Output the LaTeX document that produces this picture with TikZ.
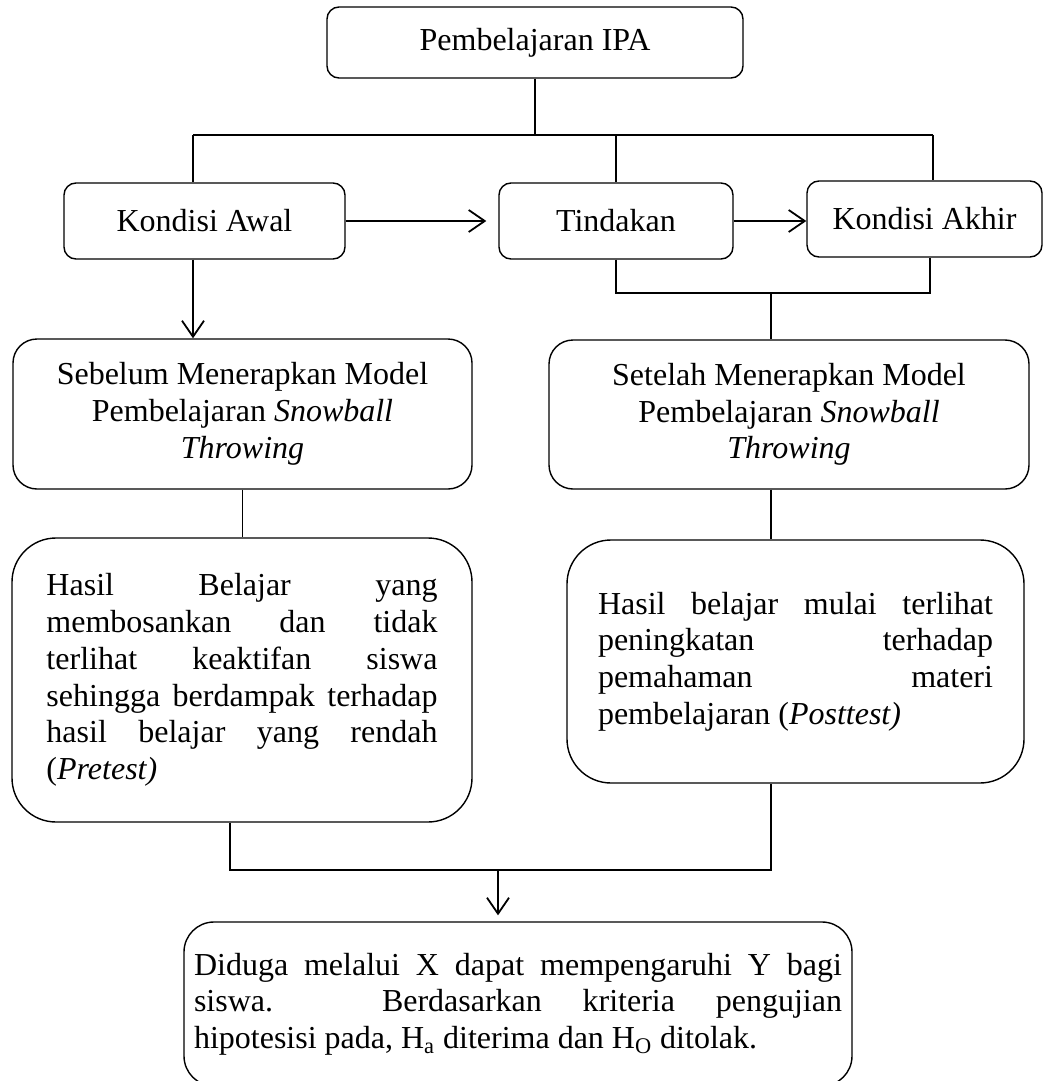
\documentclass[tikz,border=0pt]{standalone}
\usepackage{fontspec}
\setmainfont{Liberation Serif}
\usetikzlibrary{arrows.meta}
\tolerance=10000
\hbadness=10000
\hyphenpenalty=10000

\begin{document}
\begin{tikzpicture}[x=0.5pt,y=-0.5pt,
  box/.style={draw, line width=0.7pt, rounded corners=#1, inner sep=0pt, align=center,
    font=\fontsize{16}{18.35}\selectfont},
  box/.default=6pt,
  link/.style={line width=0.9pt},
  arr/.style={line width=0.9pt, -{Straight Barb[length=8pt,width=11pt,line width=0.9pt]}}]
\useasboundingbox (0,0) rectangle (1044,1081);
\node[box, minimum width=208pt, minimum height=35.5pt] (ipa) at (535,42.5) {Pembelajaran IPA};
\node[box, minimum width=140.5pt, minimum height=38pt] (awal) at (204.5,221) {Kondisi Awal};
\node[box, minimum width=117pt, minimum height=38pt] (tindakan) at (616,221) {Tindakan};
\node[box, minimum width=117.5pt, minimum height=38pt] (akhir) at (924.5,219) {Kondisi Akhir};
\node[box=12pt, minimum width=229.5pt, minimum height=75pt] (sebelum) at (242.5,414)
  {Sebelum Menerapkan Model\\ Pembelajaran \textit{Snowball}\\ \textit{Throwing}};
\node[box=12pt, minimum width=240pt, minimum height=74.5pt] (setelah) at (789,414.5)
  {Setelah Menerapkan Model\\ Pembelajaran \textit{Snowball}\\ \textit{Throwing}};
\node[box=22pt, minimum width=230pt, minimum height=142pt, text width=195.5pt, align=justify] (hasilA) at (242,680)
  {Hasil Belajar yang\linebreak membosankan dan tidak\linebreak terlihat keaktifan siswa\linebreak
   sehingga berdampak terhadap\linebreak hasil belajar yang rendah\linebreak (\textit{Pretest)}};
\node[box=22pt, minimum width=228.5pt, minimum height=121.5pt, text width=197.5pt, align=justify] (hasilB) at (795.5,661.5)
  {Hasil belajar mulai terlihat\linebreak peningkatan terhadap\linebreak pemahaman materi\linebreak
   pembelajaran (\textit{Posttest)}};
\node[box=15pt, minimum width=334pt, minimum height=82pt, text width=324pt, align=justify] (duga) at (518,1004)
  {\rightskip=9.5pt\relax Diduga melalui X dapat mempengaruhi Y bagi\linebreak siswa. Berdasarkan kriteria pengujian\linebreak
   hipotesisi pada, H\textsubscript{a} diterima dan H\textsubscript{O} ditolak.};
% top branches
\coordinate (barL) at (193,135);
\coordinate (barR) at (933,135);
\path[draw,link] (ipa.south) -- (ipa.south |- barL);
\path[draw,link] (barL) -- (barR);
\path[draw,link] (barL) -- (barL |- awal.north);
\path[draw,link] (tindakan.north |- barL) -- (tindakan.north);
\path[draw,link] (barR) -- (barR |- akhir.north);
\path[draw,arr,shorten >=6pt] (awal.east) -- (tindakan.west);
\path[draw,arr] (tindakan.east) -- (tindakan.east -| akhir.west);
% join below
\coordinate (midR) at (930,293);
\coordinate (joinT) at (771,293);
\path[draw,link] (tindakan.south) |- (midR) -- (midR |- akhir.south);
\path[draw,link] (joinT) -- (joinT |- setelah.north);
\path[draw,arr] (awal.south -| barL) -- (sebelum.north -| barL);
\path[draw,link] (sebelum.south) -- (sebelum.south |- hasilA.north);
\path[draw,link] (setelah.south -| joinT) -- (hasilB.north -| joinT);
% bottom
\coordinate (baseL) at (230,870);
\coordinate (baseR) at (771,870);
\coordinate (baseM) at (498,870);
\path[draw,link] (hasilA.south -| baseL) -- (baseL) -- (baseR) -- (hasilB.south -| baseR);
\path[draw,arr,shorten >=3pt] (baseM) -- (baseM |- duga.north);
\end{tikzpicture}
\end{document}
